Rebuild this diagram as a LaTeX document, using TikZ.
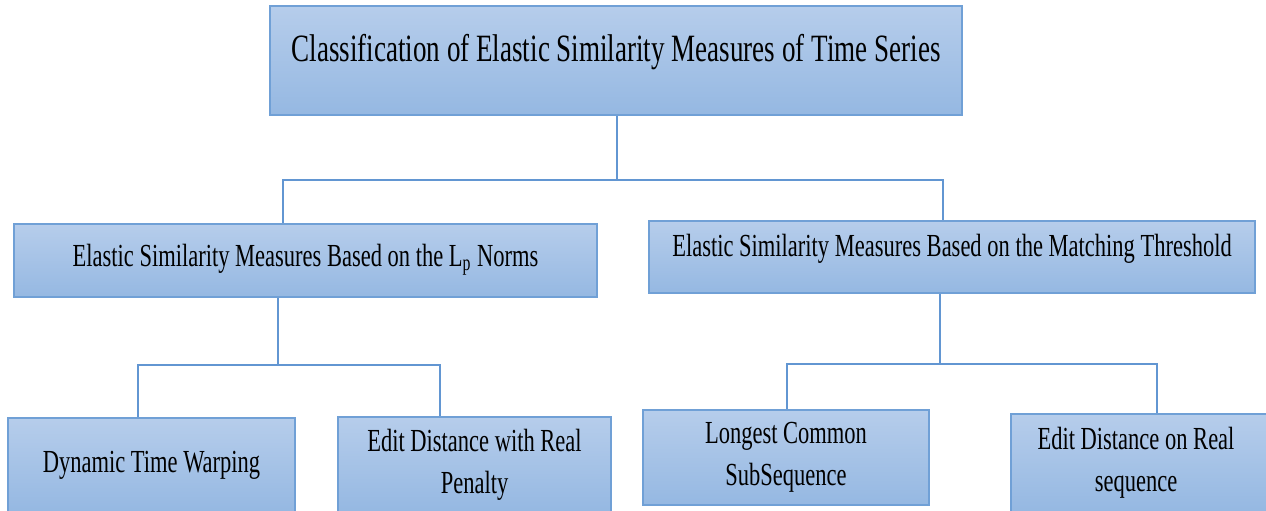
\documentclass[tikz,border=0pt]{standalone}
\usepackage{fontspec}
\setmainfont{Liberation Serif}[FakeStretch=0.7]
\usepackage{tikz}
\usetikzlibrary{positioning, calc}

\definecolor{boxtop}{RGB}{182,205,235}
\definecolor{boxbot}{RGB}{149,184,226}
\definecolor{boxedge}{RGB}{112,160,214}
\definecolor{linkcol}{RGB}{98,150,210}

\begin{document}
\begin{tikzpicture}[
  x=0.02cm, y=-0.02cm,
  box/.style = {draw=boxedge, line width=1.2pt, top color=boxtop, bottom color=boxbot,
                align=center, inner sep=0pt, font=\fontsize{18.3}{23.8}\selectfont},
  link/.style = {draw=linkcol, line width=1.1pt}
]
  \useasboundingbox (0,0) rectangle (1266,510);

  % Root
  \node[box, minimum width=692*0.02cm, minimum height=109*0.02cm,
        text height=0.6cm, text depth=0.54cm, font=\fontsize{22}{26}\selectfont]
        (root) at (616,60.5) {Classification of Elastic Similarity Measures of Time Series};

  % Second level
  \node[box, minimum width=583*0.02cm, minimum height=73*0.02cm,
        text height=0.45cm, text depth=0.23cm]
        (lpnorm) at (305.5,260.5) {Elastic Similarity Measures Based on the L\textsubscript{p} Norms};
  \node[box, minimum width=606*0.02cm, minimum height=72*0.02cm,
        text height=0.45cm, text depth=0.49cm]
        (thresh) at (952,257) {Elastic Similarity Measures Based on the Matching Threshold};

  % Third level
  \node[box, minimum width=287*0.02cm, minimum height=94*0.02cm]
        (dtw) at (151.5,465) {Dynamic Time Warping};
  \node[box, minimum width=273*0.02cm, minimum height=95*0.02cm]
        (erp) at (474.5,464.5) {Edit Distance with Real\\Penalty};
  \node[box, minimum width=286*0.02cm, minimum height=95*0.02cm]
        (lcss) at (786,457.5) {Longest Common\\SubSequence};
  % box runs past the right edge, text sits left of its centre
  \node[box, minimum width=264*0.02cm, minimum height=98*0.02cm,
        label={[name=edrtext, align=center, xshift=-0.14cm,
                font=\fontsize{18.3}{23.8}\selectfont]center:Edit Distance on Real\\sequence}]
        (edr) at (1143,463) {};

  % Bus below the root
  \coordinate (busa) at (617,180);
  \coordinate (busal) at (283,180);
  \coordinate (busar) at (943,180);
  \draw[link] (root.south -| busa) -- (busa);
  \draw[link] (busal |- lpnorm.north) -- (busal) -- (busar) -- (busar |- thresh.north);

  % Bus below the Lp norms box
  \coordinate (busb) at (278,365);
  \coordinate (busbl) at (138,365);
  \coordinate (busbr) at (440,365);
  \draw[link] (lpnorm.south -| busb) -- (busb);
  \draw[link] (busbl |- dtw.north) -- (busbl) -- (busbr) -- (busbr |- erp.north);

  % Bus below the threshold box
  \coordinate (busc) at (940,364);
  \coordinate (buscl) at (787,364);
  \coordinate (buscr) at (1157,364);
  \draw[link] (thresh.south -| busc) -- (busc);
  \draw[link] (buscl |- lcss.north) -- (buscl) -- (buscr) -- (buscr |- edr.north);

\end{tikzpicture}
\end{document}
